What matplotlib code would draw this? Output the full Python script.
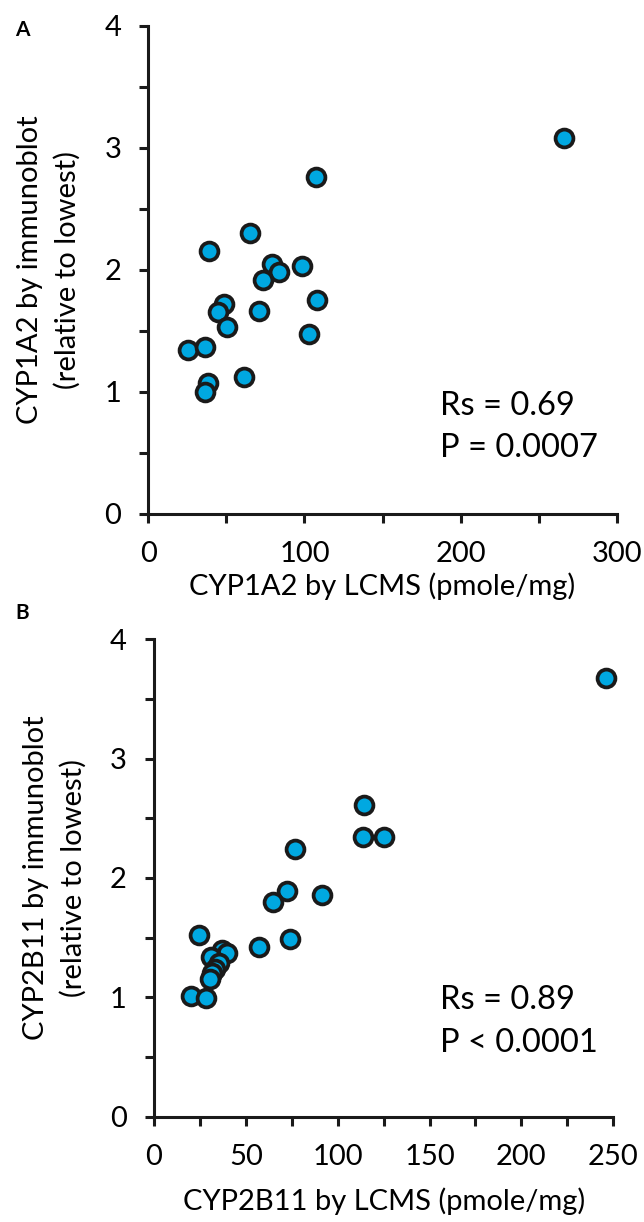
# Import
import matplotlib
matplotlib.use("Agg")
import matplotlib.pyplot as plt
from matplotlib.ticker import MultipleLocator

# Panel A data: CYP1A2 LCMS vs immunoblot
cyp1a2_lcms = [107.4, 65.1, 39.1, 79.0, 83.9, 98.3, 73.7, 108.3, 48.7, 44.5,
               71.1, 50.2, 103.1, 25.2, 36.5, 38.4, 36.1, 61.5, 266.5]
cyp1a2_blot = [2.76, 2.30, 2.15, 2.05, 1.98, 2.03, 1.92, 1.75, 1.72, 1.65,
               1.66, 1.53, 1.47, 1.34, 1.37, 1.07, 1.00, 1.12, 3.08]

# Panel B data: CYP2B11 LCMS vs immunoblot
cyp2b11_lcms = [114.5, 113.6, 125.4, 76.8, 72.2, 64.9, 91.3, 24.7, 57.3, 74.0,
                20.0, 28.1, 36.8, 39.6, 30.9, 35.5, 33.2, 31.4, 30.7, 246.0]
cyp2b11_blot = [2.61, 2.34, 2.34, 2.24, 1.89, 1.80, 1.86, 1.52, 1.42, 1.49,
                1.01, 0.99, 1.40, 1.37, 1.34, 1.29, 1.24, 1.20, 1.15, 3.68]

# Axis ticks and labels
x_ticks_a = [0, 100, 200, 300]
x_ticks_b = [0, 50, 100, 150, 200, 250]
y_ticks = [0, 1, 2, 3, 4]

stats_a = ["Rs = 0.69", "P = 0.0007"]
stats_b = ["Rs = 0.89", "P < 0.0001"]

FONT = "Lato"
plt.rcParams["font.family"] = [FONT, "DejaVu Sans"]

fill_color = "#00a8e1"
edge_color = "#1a1a1a"
label_size = 21


def style_axes(ax, x_ticks, x_minor):
  # Only left and bottom spines, outward ticks
  ax.spines["top"].set_visible(False)
  ax.spines["right"].set_visible(False)
  for side in ["left", "bottom"]:
    ax.spines[side].set_linewidth(2.2)
    ax.spines[side].set_color(edge_color)

  ax.set_xticks(x_ticks)
  ax.xaxis.set_minor_locator(MultipleLocator(x_minor))
  ax.set_yticks(y_ticks)
  ax.yaxis.set_minor_locator(MultipleLocator(0.5))

  ax.tick_params(which="both", direction="out", width=2.2, color=edge_color,
                 length=6.5, labelsize=label_size, pad=13)
  ax.set_xlim(x_ticks[0], x_ticks[-1])
  ax.set_ylim(0, 4)


def draw_panel(ax, xs, ys, x_ticks, x_minor, xlabel, ylabel, stats, stats_x, stats_y, xpad):
  ax.scatter(xs, ys, s=165, color=fill_color, edgecolor=edge_color,
             linewidth=2.7, zorder=3, clip_on=False)
  style_axes(ax, x_ticks, x_minor)
  ax.set_xlabel(xlabel, fontsize=label_size, labelpad=xpad)
  ax.set_ylabel(ylabel, fontsize=label_size, labelpad=17, linespacing=1.5)

  # Spearman stats text
  ax.text(stats_x, stats_y[0], stats[0], fontsize=23.5, va="center", ha="left")
  ax.text(stats_x, stats_y[1], stats[1], fontsize=23.5, va="center", ha="left")


fig = plt.figure(figsize=(6.44, 12.22), dpi=100)

ax_a = fig.add_axes([0.2303, 0.5796, 0.7273, 0.3993])
draw_panel(ax_a, cyp1a2_lcms, cyp1a2_blot, x_ticks_a, 50,
           "CYP1A2 by LCMS (pmole/mg)",
           "CYP1A2 by immunoblot\n(relative to lowest)",
           stats_a, 187, [0.88, 0.54], 4)

ax_b = fig.add_axes([0.2391, 0.0863, 0.7132, 0.3905])
draw_panel(ax_b, cyp2b11_lcms, cyp2b11_blot, x_ticks_b, 25,
           "CYP2B11 by LCMS (pmole/mg)",
           "CYP2B11 by immunoblot\n(relative to lowest)",
           stats_b, 155.7, [0.98, 0.62], 13)

# Panel letters
fig.text(15 / 644, 1 - 30 / 1222, "A", fontsize=15, fontweight="bold",
         va="center", ha="left")
fig.text(15 / 644, 1 - 613 / 1222, "B", fontsize=15, fontweight="bold",
         va="center", ha="left")

fig.savefig("out.png", dpi=100)
